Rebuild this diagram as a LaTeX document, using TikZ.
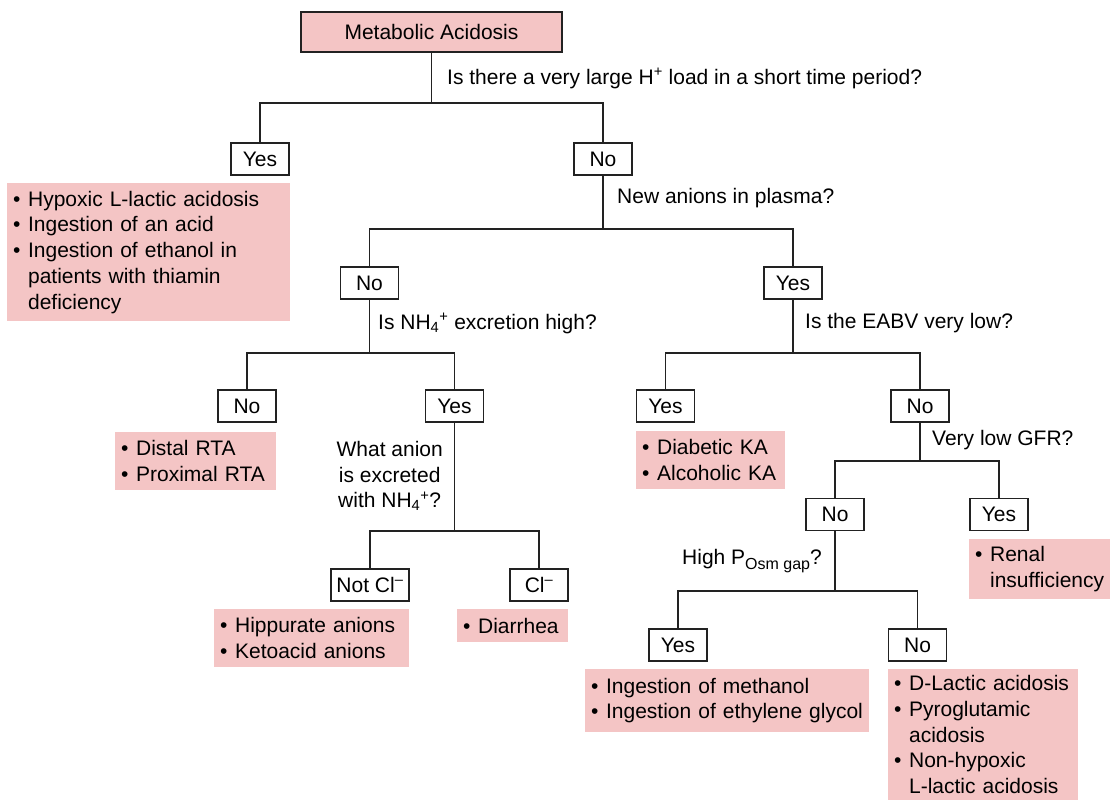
\documentclass[tikz,border=0pt]{standalone}
\usepackage{fontspec}
\setmainfont{Liberation Sans}
\definecolor{pinkfill}{HTML}{F4C5C5}
\definecolor{edgecol}{HTML}{222222}
\newcommand{\li}[1]{\mbox{\textbullet\hspace{0.36em}#1}}
\newcommand{\lc}[1]{\mbox{\hphantom{\textbullet\hspace{0.36em}}#1}}
\newcommand{\osmsub}[1]{\raisebox{-0.28em}{\fontsize{16}{16}\selectfont #1}}
\tikzset{
  ans/.style={draw=edgecol, line width=1.2pt, fill=white, minimum width=58pt, minimum height=32pt, inner sep=0pt},
  listbox/.style 2 args={fill=pinkfill, anchor=north west, inner xsep=6pt, inner ysep=0pt, align=left, text width=#1, minimum height=#2},
  qtext/.style={inner sep=0pt},
  conn/.style={draw=edgecol, line width=1.2pt}
}
\begin{document}
\begin{tikzpicture}[x=1pt,y=-1pt,font=\fontsize{21}{25.7}\selectfont]
\useasboundingbox (0,0) rectangle (1110,800);

% root
\node[draw=edgecol, line width=1.2pt, fill=pinkfill, minimum width=261pt, minimum height=40pt, inner sep=0pt] (root) at (431.5,32) {Metabolic Acidosis};

% answer boxes
\node[ans] (yes1) at (260,159) {Yes};
\node[ans] (no1) at (603,159) {No};
\node[ans] (no2) at (369.5,283) {No};
\node[ans] (yes2) at (793,283) {Yes};
\node[ans] (no3) at (247,406) {No};
\node[ans] (yes3) at (454.5,406) {Yes};
\node[ans, minimum width=78pt] (notcl) at (370,585) {Not Cl\textsuperscript{–}};
\node[ans] (cl) at (539,585) {Cl\textsuperscript{–}};
\node[ans] (yesb) at (665.5,406) {Yes};
\node[ans] (nob) at (920,406) {No};
\node[ans] (noc) at (835,514.5) {No};
\node[ans] (yesc) at (999,514.5) {Yes};
\node[ans] (yesd) at (678,645) {Yes};
\node[ans] (nod) at (917.5,645) {No};

% questions
\node[qtext, anchor=west] (q1) at (447,78.5) {Is there a very large H\textsuperscript{+} load in a short time period?};
\node[qtext, anchor=west] (q2) at (617,198.5) {New anions in plasma?};
\node[qtext, anchor=west] (q3) at (378,323.5) {Is NH\textsubscript{4}\textsuperscript{+} excretion high?};
\node[qtext, anchor=west] (q4) at (805,323.5) {Is the EABV very low?};
\node[qtext, anchor=east, align=center] (q5) at (443,476) {What anion\\is excreted\\with NH\textsubscript{4}\textsuperscript{+}?};
\node[qtext, anchor=west] (q6) at (932,440) {Very low GFR?};
\node[qtext, anchor=east] (q7) at (822,561) {High P\osmsub{Osm gap}?};

% result lists
\node[listbox={271pt}{138pt}] (p1) at (7,183) {\li{Hypoxic L-lactic acidosis}\\\li{Ingestion of an acid}\\\li{Ingestion of ethanol in}\\\lc{patients with thiamin}\\\lc{deficiency}};
\node[listbox={149pt}{58pt}] (p2) at (115,432) {\li{Distal RTA}\\\li{Proximal RTA}};
\node[listbox={183pt}{58pt}] (p3) at (214,609) {\li{Hippurate anions}\\\li{Ketoacid anions}};
\node[listbox={99pt}{33pt}] (p4) at (457,609) {\li{Diarrhea}};
\node[listbox={137pt}{58pt}] (p5) at (636,431) {\li{Diabetic KA}\\\li{Alcoholic KA}};
\node[listbox={129pt}{60pt}] (p6) at (969,539) {\li{Renal}\\\lc{insufficiency}};
\node[listbox={272pt}{63pt}] (p7) at (585,669) {\li{Ingestion of methanol}\\\li{Ingestion of ethylene glycol}};
\node[listbox={178pt}{131pt}] (p8) at (888,669) {\li{D-Lactic acidosis}\\\li{Pyroglutamic}\\\lc{acidosis}\\\li{Non-hypoxic}\\\lc{L-lactic acidosis}};

% junctions
\coordinate (j1) at (431.5,103);
\coordinate (j2) at (603,229);
\coordinate (j3) at (369.5,353);
\coordinate (j4) at (454.5,531);
\coordinate (j5) at (793,353);
\coordinate (j6) at (920,461);
\coordinate (j7) at (835,591);

% connectors
\draw[conn] (root.south) -- (j1);
\draw[conn] (yes1.north) |- (j1) -| (no1.north);
\draw[conn] (no1.south) -- (j2);
\draw[conn] (no2.north) |- (j2) -| (yes2.north);
\draw[conn] (no2.south) -- (j3);
\draw[conn] (no3.north) |- (j3) -| (yes3.north);
\draw[conn] (yes3.south) -- (j4);
\draw[conn] (notcl.north) |- (j4) -| (cl.north);
\draw[conn] (yes2.south) -- (j5);
\draw[conn] (yesb.north) |- (j5) -| (nob.north);
\draw[conn] (nob.south) -- (j6);
\draw[conn] (noc.north) |- (j6) -| (yesc.north);
\draw[conn] (noc.south) -- (j7);
\draw[conn] (yesd.north) |- (j7) -| (nod.north);
\end{tikzpicture}
\end{document}
